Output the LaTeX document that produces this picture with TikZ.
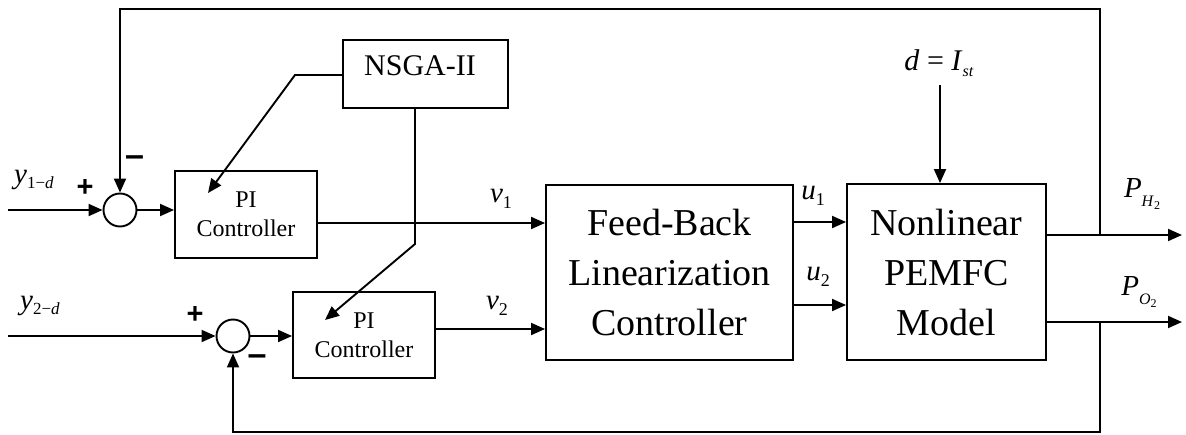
\documentclass[tikz,border=0pt]{standalone}
\usepackage{fontspec}
\setmainfont{Liberation Serif}
\setsansfont{Liberation Sans}
\usetikzlibrary{arrows.meta}
\newcommand{\bigfont}{\fontsize{38}{50}\selectfont}
\newcommand{\pifont}{\fontsize{24}{29}\selectfont}
\newcommand{\nsgafont}{\fontsize{30}{36}\selectfont}
\newcommand{\varfont}{\fontsize{29}{29}\selectfont}
\newcommand{\subfont}{\fontsize{18}{18}\selectfont}
\newcommand{\ysubfont}{\fontsize{17}{17}\selectfont}
\newcommand{\psubfont}{\fontsize{16}{16}\selectfont}
\newcommand{\ppsubfont}{\fontsize{12}{12}\selectfont}
\begin{document}
\begin{tikzpicture}[x=1pt,y=-1pt,line width=1.9pt,
  box/.style={draw,line width=1.9pt,inner sep=0pt,align=center},
  sumnode/.style={draw,circle,minimum size=33pt,inner sep=0pt,line width=1.9pt},
  arr/.style={-{Triangle[length=14pt,width=12pt]}},
  lbl/.style={inner sep=0pt},
  sign/.style={inner sep=0pt,font=\sffamily\bfseries\fontsize{29}{29}\selectfont},
  msign/.style={inner sep=0pt,font=\sffamily\bfseries\fontsize{34}{34}\selectfont}]
\useasboundingbox (0,0) rectangle (1186,434);

% blocks
\node[sumnode] (s1) at (120,210) {};
\node[sumnode] (s2) at (233,336) {};
\node[box,minimum width=142pt,minimum height=87pt,font=\pifont] (pi1) at (246,214.5) {PI\\Controller};
\node[box,minimum width=142pt,minimum height=86pt,font=\pifont] (pi2) at (364,335) {PI\\Controller};
\node[box,minimum width=165pt,minimum height=68pt] (nsga) at (425.5,74) {};
\node[lbl,font=\nsgafont] (nsgat) at (420,66) {NSGA-II};
\node[box,minimum width=247pt,minimum height=175pt,font=\bigfont] (fbl) at (669.5,272.5) {Feed-Back\\Linearization\\Controller};
\node[box,minimum width=199pt,minimum height=176pt,font=\bigfont] (npm) at (946.5,272) {Nonlinear\\PEMFC\\Model};

% coordinates
\coordinate (in1) at (8,210);
\coordinate (in2) at (8,336);
\coordinate (yv1) at (0,223);
\coordinate (yv2) at (0,329);
\coordinate (yu1) at (0,222);
\coordinate (yu2) at (0,305);
\coordinate (ph2) at (1182,235);
\coordinate (po2) at (1182,322);
\coordinate (jh) at (1100,235);
\coordinate (jo) at (1100,322);
\coordinate (tr) at (1100,9);
\coordinate (tl) at (120,9);
\coordinate (br) at (1100,432);
\coordinate (bl) at (233,432);
\coordinate (n1a) at (295,75);
\coordinate (n1t) at (208,193);
\coordinate (n2a) at (415,244);
\coordinate (n2t) at (325,320);
\coordinate (dtop) at (940,85);

% connectors
\draw[arr] (in1) -- (s1);
\draw[arr] (s1) -- (s1 -| pi1.west);
\draw[arr] (pi1.east |- yv1) -- (fbl.west |- yv1);
\draw[arr] (in2) -- (s2);
\draw[arr] (s2) -- (s2 -| pi2.west);
\draw[arr] (pi2.east |- yv2) -- (fbl.west |- yv2);
\draw[arr] (fbl.east |- yu1) -- (npm.west |- yu1);
\draw[arr] (fbl.east |- yu2) -- (npm.west |- yu2);
\draw[arr] (dtop) -- (dtop |- npm.north);
\draw[arr] (npm.east |- ph2) -- (ph2);
\draw[arr] (npm.east |- po2) -- (po2);
\draw[arr] (jh) -- (tr) -- (tl) -- (s1);
\draw[arr] (jo) -- (br) -- (bl) -- (s2);
\draw[arr] (nsga.west |- n1a) -- (n1a) -- (n1t);
\draw[arr] (nsga.south -| n2a) -- (n2a) -- (n2t);

% labels
\node[lbl] (ly1) at (34,180) {{\varfont\textit{y}}\raisebox{-5pt}{\ysubfont 1−\textit{d}}};
\node[lbl] (ly2) at (40,306) {{\varfont\textit{y}}\raisebox{-5pt}{\ysubfont 2−\textit{d}}};
\node[lbl] (lv1) at (501,199) {{\varfont\textit{v}}\raisebox{-6pt}{\subfont 1}};
\node[lbl] (lv2) at (497,306) {{\varfont\textit{v}}\raisebox{-6pt}{\subfont 2}};
\node[lbl] (lu1) at (813,196) {{\varfont\textit{u}}\raisebox{-6pt}{\subfont 1}};
\node[lbl] (lu2) at (818,277) {{\varfont\textit{u}}\raisebox{-6pt}{\subfont 2}};
\node[lbl] (lph) at (1142,194) {{\varfont\textit{P}}\raisebox{-9pt}{\psubfont\textit{H}\raisebox{-3pt}{\ppsubfont 2}}};
\node[lbl] (lpo) at (1139,292) {{\varfont\textit{P}}\raisebox{-9pt}{\psubfont\textit{O}\raisebox{-3pt}{\ppsubfont 2}}};
\node[lbl] (ld) at (939,63) {\fontsize{30}{30}\selectfont\textit{d} = \textit{I}\raisebox{-6pt}{\fontsize{16}{16}\selectfont\textit{st}}};

% signs
\node[sign] (p1) at (85,188) {+};
\node[msign] (m1) at (134.5,161) {–};
\node[sign] (p2) at (195,315) {+};
\node[msign] (m2) at (257,360) {–};
\end{tikzpicture}
\end{document}
